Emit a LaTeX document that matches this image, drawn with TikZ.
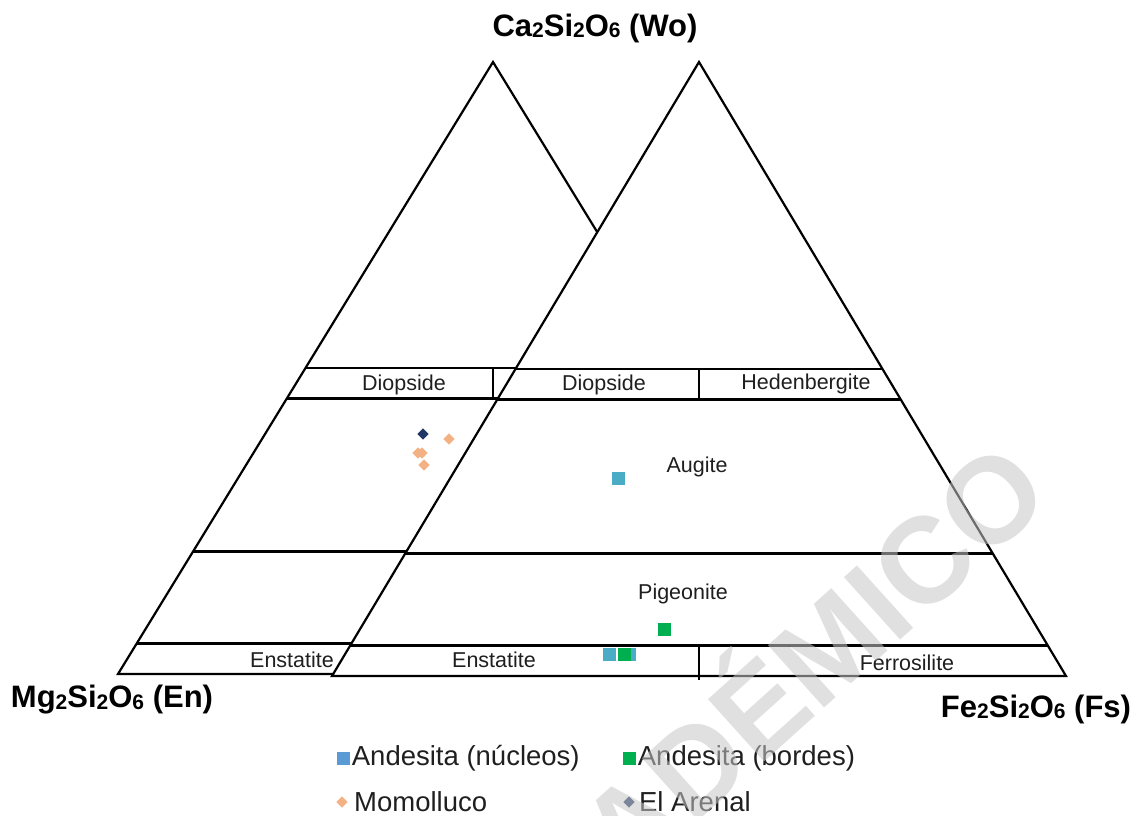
\documentclass[tikz,border=0pt]{standalone}
\usepackage{fontspec}
\setmainfont{Liberation Sans}
\usetikzlibrary{calc,positioning,shapes.geometric}

\definecolor{legblue}{HTML}{5B9BD5}
\definecolor{ptteal}{HTML}{4BACC6}
\definecolor{ptgreen}{HTML}{00B050}
\definecolor{ptorange}{HTML}{F4B183}
\definecolor{ptnavy}{HTML}{1F3864}

\newcommand\chsub[1]{\raisebox{-0.12ex}{\fontsize{21}{21}\selectfont #1}}

\tikzset{
  triline/.style={line width=2.2pt, line join=miter},
  rowline/.style={line width=3.2pt},
  fieldlbl/.style={text=black!88, font=\fontsize{21.5}{24}\selectfont, inner sep=0pt},
  endlbl/.style={font=\bfseries\fontsize{31}{34}\selectfont, inner sep=0pt},
  legtext/.style={text=black!88, font=\fontsize{27.5}{30}\selectfont, inner sep=0pt, anchor=west},
  sqmark/.style={rectangle, minimum size=13pt, inner sep=0pt},
  dmmark/.style={diamond, minimum size=11.5pt, inner sep=0pt}
}

\begin{document}
\begin{tikzpicture}[x=1pt,y=-1pt]
		\useasboundingbox (0,0) rectangle (1138,816);
		\clip (0,0) rectangle (1138,816);

		% left triangle (partly hidden)
		\coordinate (La) at (493,62);
		\coordinate (Lb) at (118,674);
		\coordinate (Lc) at (868,674);
		\draw[triline] (Lb) -- (La) -- (Lc) -- cycle;
		\foreach \t/\n in {0.5/a,0.55/b,0.8/c,0.95/d} {
			\coordinate (Ll\n) at ($(La)!\t!(Lb)$);
			\coordinate (Lr\n) at ($(La)!\t!(Lc)$);
		}
		\draw[line width=2.4pt] (Lla) -- (Lra);
		\draw[rowline] (Llb) -- (Lrb) (Llc) -- (Lrc) (Lld) -- (Lrd);
		\draw[line width=2.2pt] (La |- Lla) -- (La |- Llb);

		% right triangle on top
		\coordinate (Ra) at (699,62);
		\coordinate (Rb) at (332,676);
		\coordinate (Rc) at (1066,676);
		\fill[white] (Rb) -- (Ra) -- (Rc) -- cycle;
		\draw[triline] (Rb) -- (Ra) -- (Rc) -- cycle;
		\foreach \t/\n in {0.5/a,0.55/b,0.8/c,0.95/d} {
			\coordinate (Rl\n) at ($(Ra)!\t!(Rb)$);
			\coordinate (Rr\n) at ($(Ra)!\t!(Rc)$);
		}
		\draw[line width=2.4pt] (Rla) -- (Rra);
		\draw[rowline] (Rlb) -- (Rrb) (Rlc) -- (Rrc) (Rld) -- (Rrd);
		\draw[line width=2.2pt] (Ra |- Rla) -- (Ra |- Rlb);
		\draw[line width=2.2pt] (Ra |- Rld) -- ([yshift=-4pt]Ra |- Rc);

		% field names
		\node[fieldlbl] (diL) at (404,385) {Diopside};
		\node[fieldlbl] (diR) at (604,385) {Diopside};
		\node[fieldlbl] (hed) at (806,384) {Hedenbergite};
		\node[fieldlbl] (aug) at (697,467) {Augite};
		\node[fieldlbl] (pig) at (683,594) {Pigeonite};
		\node[fieldlbl] (enL) at (292,660) {Enstatite};
		\node[fieldlbl] (enR) at (494,660) {Enstatite};
		\node[fieldlbl] (fer) at (907,663) {Ferrosilite};

		% end members
		\node[endlbl] (wo) at (595,28) {Ca\chsub{2}Si\chsub{2}O\chsub{6} (Wo)};
		\node[endlbl] (en) at (112,700) {Mg\chsub{2}Si\chsub{2}O\chsub{6} (En)};
		\node[endlbl] (fs) at (1036,709) {Fe\chsub{2}Si\chsub{2}O\chsub{6} (Fs)};

		% samples
		\node[sqmark, fill=ptteal] (an1) at (618,478) {};
		\node[sqmark, fill=ptteal] (an2) at (609,654) {};
		\node[sqmark, fill=ptteal] (an3) at (629,654) {};
		\node[sqmark, fill=ptgreen] (bo1) at (624,654) {};
		\node[sqmark, fill=ptgreen] (bo2) at (664,629) {};
		\node[dmmark, fill=ptorange] (mo1) at (449,439) {};
		\node[dmmark, fill=ptorange] (mo2) at (418,453) {};
		\node[dmmark, fill=ptorange] (mo3) at (422,453) {};
		\node[dmmark, fill=ptorange] (mo4) at (424,465) {};
		\node[dmmark, fill=ptnavy] (ar1) at (423,434) {};

		% legend
		\node[sqmark, fill=legblue] (k1) at (343,758) {};
		\node[legtext, right=2pt of k1] (t1) {Andesita (núcleos)};
		\node[sqmark, fill=ptgreen] (k2) at (629,758) {};
		\node[legtext, right=2pt of k2] (t2) {Andesita (bordes)};
		\node[dmmark, fill=ptorange] (k3) at (342,802) {};
		\node[legtext, right=6pt of k3] (t3) {Momolluco};
		\node[dmmark, fill=ptnavy] (k4) at (629,802) {};
		\node[legtext, right=4pt of k4] (t4) {El Arenal};

		% watermark
		\node[rotate=42, text=black!22, text opacity=0.55, inner sep=0pt,
			font=\bfseries\fontsize{122}{122}\selectfont] (wm) at (740,712) {ACADÉMICO};
	\end{tikzpicture}
\end{document}
